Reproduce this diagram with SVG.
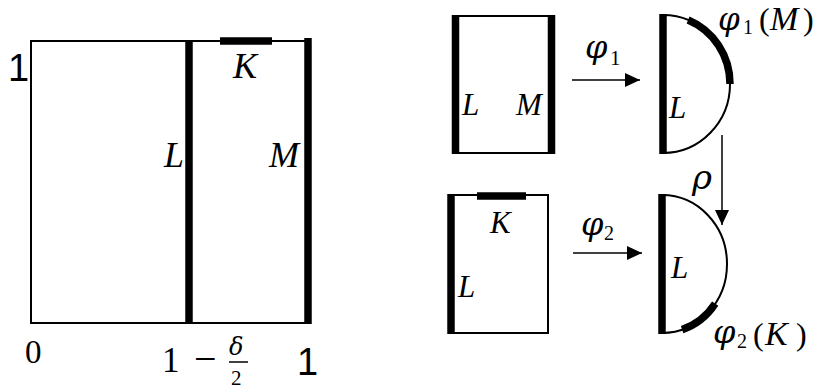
<svg xmlns="http://www.w3.org/2000/svg" width="820" height="392" viewBox="0 0 820 392">
<style>
.thin{fill:none;stroke:#000;stroke-width:2}
.thick{fill:none;stroke:#000;stroke-width:7.5}
.m{font-family:"Liberation Serif","DejaVu Serif",serif;font-style:italic;fill:#000}
.g{font-family:"DejaVu Serif","Liberation Serif",serif;font-style:italic;fill:#000}
.up{font-family:"Liberation Serif","DejaVu Serif",serif;font-style:normal;fill:#000}
.sans{font-family:"Liberation Sans","Open Sans",sans-serif;fill:#000}
.conn{stroke:#000;stroke-width:1.5;fill:none}
</style>
<defs>
<marker id="ah" viewBox="0 0 15 14" refX="15" refY="7" markerWidth="15" markerHeight="14" markerUnits="userSpaceOnUse" orient="auto">
<path d="M0,0 L15,7 L0,14 Z" fill="#000"/>
</marker>
</defs>
<rect width="820" height="392" fill="#fff"/>

<g id="unit-square">
<path class="thin" d="M308,41 H31 V323 H308"/>
<line class="thick" x1="189" y1="40" x2="189" y2="324"/>
<line class="thick" x1="308" y1="38" x2="308" y2="324"/>
<line class="thick" x1="220" y1="41" x2="272" y2="41"/>
<text class="sans" x="8" y="81" font-size="38">1</text>
<text class="m" x="233" y="78" font-size="36">K</text>
<text class="m" x="164" y="167" font-size="36">L</text>
<text class="m" x="269" y="167" font-size="36">M</text>
<text class="up" x="25" y="363" font-size="33">0</text>
<text class="up" x="162" y="372" font-size="35">1</text>
<text class="up" x="194" y="372" font-size="40">−</text>
<text class="g" x="229" y="355" font-size="24">δ</text>
<line x1="229" y1="362" x2="248" y2="362" stroke="#000" stroke-width="1.5"/>
<text class="up" x="231" y="385" font-size="21">2</text>
<text class="sans" x="297" y="375" font-size="38">1</text>
</g>

<g id="rect-LM">
<path class="thin" d="M455,16 H551 M455,153 H551"/>
<line class="thick" x1="455.5" y1="15" x2="455.5" y2="154"/>
<line class="thick" x1="551.5" y1="15" x2="551.5" y2="154"/>
<text class="m" x="462" y="115" font-size="31">L</text>
<text class="m" x="516" y="115" font-size="31">M</text>
</g>

<g id="half-disk-1">
<path class="thin" d="M663,15 A67,69 0 0 1 663,153"/>
<path class="thick" d="M688.1,20 A67,69 0 0 1 730,84"/>
<line class="thick" x1="663" y1="14" x2="663" y2="154"/>
<text class="m" x="669" y="118" font-size="31">L</text>
<text x="0" y="0"><tspan class="g" x="718" y="29.5" font-size="31">φ</tspan><tspan class="up" x="743" y="34" font-size="20">1</tspan><tspan class="up" x="759" y="30" font-size="32">(</tspan><tspan class="m" x="770" y="30" font-size="34">M</tspan><tspan class="up" x="803" y="30" font-size="32">)</tspan></text>
</g>

<g id="rect-LK">
<path class="thin" d="M451,195 H548 V333 H451"/>
<line class="thick" x1="451" y1="194" x2="451" y2="334"/>
<line class="thick" x1="477" y1="196" x2="526" y2="196"/>
<text class="m" x="490" y="233" font-size="31">K</text>
<text class="m" x="458" y="297" font-size="31">L</text>
</g>

<g id="half-disk-2">
<path class="thin" d="M662,195 A65,69 0 0 1 662,333"/>
<path class="thick" d="M715.2,303.6 A65,69 0 0 1 682.1,329.6"/>
<line class="thick" x1="662" y1="194" x2="662" y2="334"/>
<text class="m" x="671" y="278" font-size="31">L</text>
<text x="0" y="0"><tspan class="g" x="713" y="343" font-size="32">φ</tspan><tspan class="up" x="737" y="348" font-size="20">2</tspan><tspan class="up" x="753" y="345" font-size="32">(</tspan><tspan class="m" x="765" y="345" font-size="34">K</tspan><tspan class="up" x="796" y="345" font-size="32">)</tspan></text>
</g>

<g id="connectors">
<line class="conn" x1="572" y1="80" x2="640" y2="80" marker-end="url(#ah)"/>
<text x="0" y="0"><tspan class="g" x="585" y="58" font-size="32">φ</tspan><tspan class="up" x="610" y="65" font-size="21">1</tspan></text>
<line class="conn" x1="573" y1="253" x2="642" y2="253" marker-end="url(#ah)"/>
<text x="0" y="0"><tspan class="g" x="581" y="235" font-size="32">φ</tspan><tspan class="up" x="604" y="240" font-size="20">2</tspan></text>
<line class="conn" x1="722" y1="135" x2="722" y2="225" marker-end="url(#ah)"/>
<text class="g" x="692" y="189" font-size="34">ρ</text>
</g>
</svg>
